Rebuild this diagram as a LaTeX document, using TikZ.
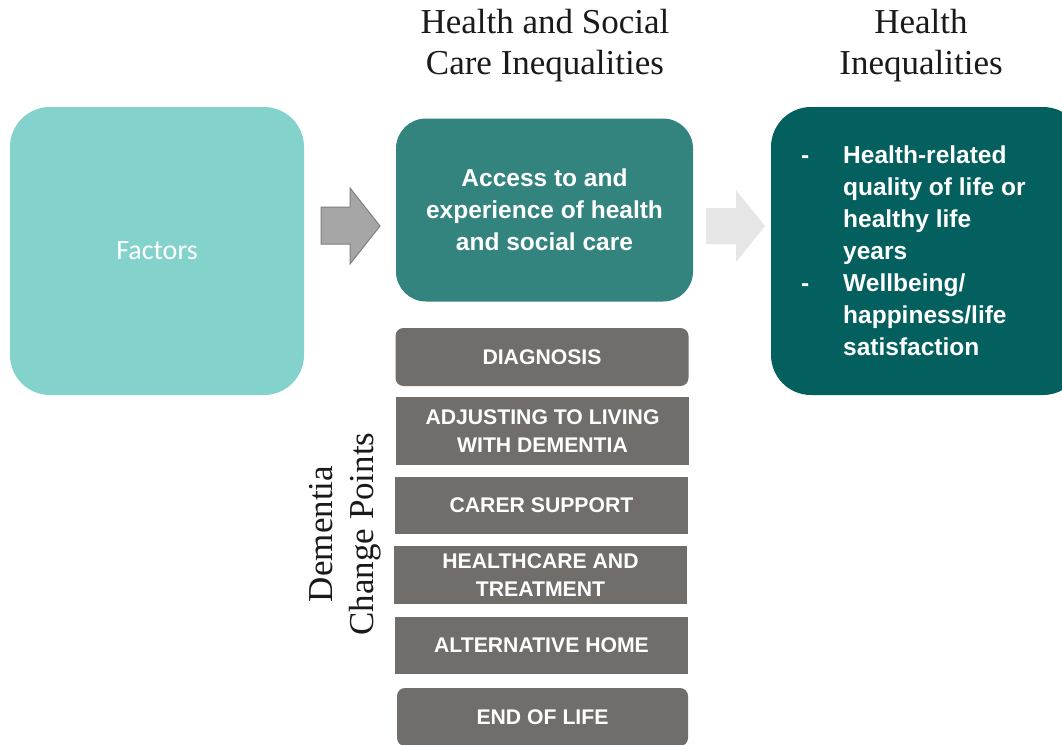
\documentclass[tikz,border=0pt]{standalone}
\usepackage{fontspec}
\newfontfamily\carlito{Carlito}
\newfontfamily\lsans{Liberation Sans}
\newfontfamily\lserif{Liberation Serif}
\usetikzlibrary{backgrounds}
\definecolor{factcol}{HTML}{83D3CC}
\definecolor{accesscol}{HTML}{33837F}
\definecolor{healthcol}{HTML}{03605F}
\definecolor{stepcol}{HTML}{716D6B}
\definecolor{arrowA}{HTML}{A6A6A6}
\definecolor{arrowAline}{HTML}{7F7F7F}
\definecolor{arrowB}{HTML}{E6E6E6}
\definecolor{titlecol}{HTML}{1A1A1A}
\begin{document}
\begin{tikzpicture}[x=1pt,y=-1pt,
  bigbox/.style={rectangle, rounded corners=40pt, inner sep=0pt},
  titletext/.style={font=\lserif\fontsize{35}{41}\selectfont, text=titlecol, align=center, inner sep=0pt},
  boxtext/.style={text=white, font=\lsans\bfseries\fontsize{24.5}{32}\selectfont},
  cpbox/.style={rectangle, fill=stepcol, minimum width=293pt, text=white,
    font=\lsans\bfseries\fontsize{21.2}{27.5}\selectfont, align=center, inner sep=0pt},
  blockA/.style={fill=arrowA, draw=arrowAline, line width=1pt, line join=miter},
  blockB/.style={fill=arrowB}
]
\clip (0,0) rectangle (1062,744);
\fill[white] (0,0) rectangle (1062,744);

% titles
\node[titletext] (t1) at (545,46) {Health and Social\\Care Inequalities};
\node[titletext] (t2) at (921,46) {Health\\Inequalities};

% main boxes
\node[bigbox, fill=factcol, minimum width=294pt, minimum height=288pt, text=white,
  font=\carlito\fontsize{28}{34}\selectfont] (factors) at (157,251) {Factors};
\node[bigbox, rounded corners=30pt, fill=accesscol, minimum width=297pt, minimum height=183pt,
  boxtext, align=center] (access) at (544.5,210) {Access to and\\experience of health\\and social care};
\node[bigbox, fill=healthcol, minimum width=312pt, minimum height=288pt] (health) at (927,251) {};
\node[boxtext, inner sep=0pt, anchor=west] (healthtext) at (801,253.5) {%
\begin{tabular}{@{}p{42pt}@{}l@{}}
-& Health-related\\
 & quality of life or\\
 & healthy life\\
 & years\\
-& Wellbeing/\\
 & happiness/life\\
 & satisfaction
\end{tabular}};

% block arrows
\draw[blockA] (321,207) -- (350,207) -- (350,188) -- (380,226) -- (350,264) -- (350,244) -- (321,244) -- cycle;
\fill[blockB] (706,208) -- (736,208) -- (736,190) -- (765,226) -- (736,262) -- (736,244) -- (706,244) -- cycle;

% dementia change points
\node[cpbox, rounded corners=8pt, minimum height=58pt] (cp1) at (542,357) {DIAGNOSIS};
\node[cpbox, minimum height=68pt] (cp2) at (542.5,431) {ADJUSTING TO LIVING\\WITH DEMENTIA};
\node[cpbox, minimum height=57pt] (cp3) at (541.5,505.5) {CARER SUPPORT};
\node[cpbox, minimum height=58pt] (cp4) at (540.5,575) {HEALTHCARE AND\\TREATMENT};
\node[cpbox, minimum height=57pt] (cp5) at (541.5,645.5) {ALTERNATIVE HOME};
\node[cpbox, rounded corners=8pt, minimum height=58pt, minimum width=291pt] (cp6) at (542.5,717) {END OF LIFE};
\begin{scope}[on background layer]
  \fill[stepcol] (cp1.west) rectangle (cp1.south east);
\end{scope}

\node[titletext, rotate=90] (dcp) at (345,534) {Dementia\\Change Points};
\end{tikzpicture}
\end{document}
